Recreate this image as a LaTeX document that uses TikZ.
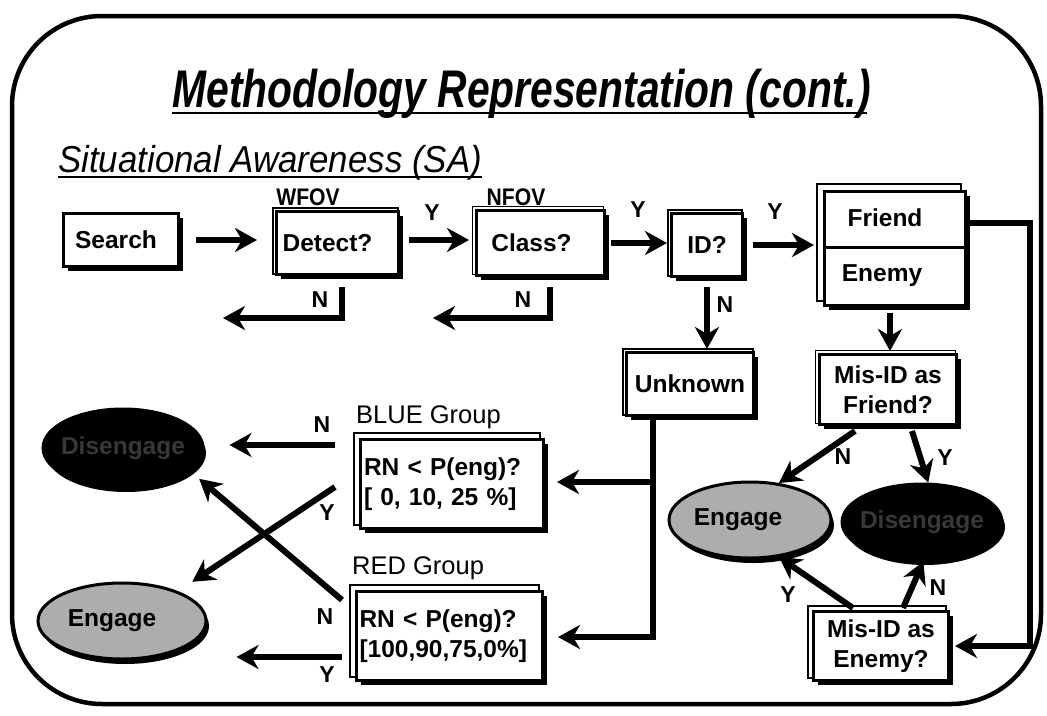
\documentclass[tikz,border=0pt]{standalone}
\usepackage{fontspec}
\setmainfont{Liberation Sans}
\newfontfamily\titlefont[FakeStretch=0.77]{Liberation Sans}
\newfontfamily\subtitlefont[FakeStretch=0.93]{Liberation Sans}
\newfontfamily\fovfont[FakeStretch=0.88]{Liberation Sans}
\usetikzlibrary{arrows.meta,calc,shapes.geometric,shadows,backgrounds}

\begin{document}
\begin{tikzpicture}[x=1pt,y=-1pt,
  lbl/.style={font=\fontsize{24.5}{30}\selectfont\bfseries},
  yn/.style={font=\fontsize{23}{26}\selectfont\bfseries, inner sep=0pt},
  grp/.style={font=\fontsize{25.5}{28}\selectfont, inner sep=0pt},
  fov/.style={font=\fovfont\bfseries\fontsize{24}{26}\selectfont, inner sep=0pt},
  box/.style={draw, line width=3pt, fill=white, inner sep=0pt, lbl,
    drop shadow={shadow xshift=4pt, shadow yshift=-4pt, fill=black, opacity=1}},
  backline/.style={draw, line width=1.3pt, fill=white},
  oval/.style={ellipse, draw, line width=3pt, inner sep=0pt, lbl,
    drop shadow={shadow xshift=3pt, shadow yshift=-5pt, fill=black, opacity=1}},
  engage/.style={oval, fill=black!32},
  disengage/.style={oval, fill=black, text=black!78},
  arr/.style={line width=6pt, -{Stealth[length=22pt, width=24pt, inset=7pt]}},
]
\useasboundingbox (0,0) rectangle (1047,715);

% slide frame
\draw[line width=4.5pt, rounded corners=90pt] (12,16) rectangle (1041,704);

% headings
\node[font=\titlefont\bfseries\itshape\fontsize{53}{58}\selectfont, inner sep=0pt, anchor=base] (title) at (521.5,107) {Methodology Representation (cont.)};
\draw[line width=2.5pt] ($(title.base west)+(0,6)$) -- ($(title.base east)+(-4,6)$);
\node[font=\subtitlefont\itshape\fontsize{37.5}{40}\selectfont, inner sep=0pt, anchor=base west] (sub) at (58,172) {Situational Awareness (SA)};
\draw[line width=2pt] ($(sub.base west)+(0,5)$) -- ($(sub.base east)+(0,5)$);

\node[fov] (wfov) at (308,197) {WFOV};
\node[fov] (nfov) at (516,197) {NFOV};

% decision boxes
\node[box, minimum width=115pt, minimum height=53pt] (search) at (121,240) {Search\hspace*{10pt}};
\node[box, minimum width=122pt, minimum height=63pt] (detect) at (337.5,243) {Detect?\hspace*{20pt}};
\node[box, minimum width=128pt, minimum height=65pt] (class) at (540.5,243) {Class?\hspace*{18pt}};
\node[box, minimum width=71pt, minimum height=63pt] (idq) at (707,245) {ID?};
\node[box, minimum width=141pt, minimum height=114pt] (fe) at (895,248.5) {};
\node[lbl] (friend) at (885,218) {Friend};
\node[lbl] (enemy) at (882,276) {Enemy};
\coordinate (div) at (0,247);
\draw[line width=3pt] (fe.west |- div) -- (fe.east |- div);
\node[box, minimum width=127pt, minimum height=63pt] (unknown) at (690,384) {Unknown};
\node[box, minimum width=137pt, minimum height=70pt, align=center] (misf) at (888,389.5) {Mis-ID as\\Friend?};
\node[box, minimum width=135pt, minimum height=69pt, align=center] (mise) at (881,646) {Mis-ID as\\Enemy?};
\node[box, minimum width=183pt, minimum height=89pt, align=left, text width=176pt] (blue) at (452,484) {RN < P(eng)?\\{[} 0, 10, 25 \%{]}};
\node[box, minimum width=186pt, minimum height=89pt, align=left, text width=180pt] (red) at (449.5,636) {RN < P(eng)?\\{[}100,90,75,0\%{]}};

% offset outlines behind the boxes
\begin{scope}[on background layer]
  \foreach \n/\d in {detect/2, class/2.5, idq/2, unknown/2, misf/2.5, mise/4, blue/5, red/5, fe/6}
    \draw[backline] ($(\n.north west)+(-\d,-\d)$) rectangle ($(\n.south east)+(-\d,-\d)$);
\end{scope}

\node[grp, anchor=west] (bluegrp) at (356,417) {BLUE Group};
\node[grp, anchor=west] (redgrp) at (352,568) {RED Group};

% outcome ovals
\node[disengage, minimum width=160pt, minimum height=78pt] (disL) at (123,448) {\makebox[0pt]{Disengage}};
\node[engage, minimum width=168pt, minimum height=76pt] (engL) at (122,621) {Engage\hspace*{20pt}};
\node[engage, minimum width=162pt, minimum height=76pt] (engR) at (750,520) {Engage\hspace*{24pt}};
\node[disengage, minimum width=160pt, minimum height=76pt] (disR) at (922,522) {\makebox[0pt]{Disengage}};

% main chain
\draw[arr, shorten <=16pt, shorten >=18pt] (search.east) -- (detect.west |- search.east);
\draw[arr, shorten <=9pt, shorten >=6pt] ($(detect.east)+(0,-3)$) -- ($(class.west)+(0,-3)$);
\draw[arr, shorten <=5pt, shorten >=3pt] (class.east) -- (idq.west |- class.east);
\draw[arr, shorten <=9pt, shorten >=9pt] (idq.east) -- (fe.west |- idq.east);

% rejected branches
\coordinate (dN) at (223,318);
\coordinate (cN) at (433,318);
\draw[arr] ($(detect.south east)+(-58,11)$) |- (dN);
\draw[arr] ($(class.south east)+(-56,10)$) |- (cN);
\draw[arr, shorten >=2pt] ($(idq.south)+(0,9)$) -- (idq.south |- unknown.north);

% friend / enemy checks
\draw[arr, shorten >=2pt] ($(misf.north |- fe.south)+(2,6)$) -- ($(misf.north)+(2,0)$);
\draw[arr] ($(misf.south)+(-33,5)$) -- (engR.52);
\draw[arr] ($(misf.south)+(24,5)$) -- (disR.81);
\draw[arr] ($(mise.north)+(-28,-2)$) -- (engR.-52);
\draw[arr] ($(mise.north)+(22,-2)$) -- (disR.-88);
\coordinate (rt) at (1030,223);
\draw[arr, shorten >=5pt] (fe.east |- rt) -- (rt) |- (mise.east);

% unknown targets
\coordinate (ub) at (653,482);
\coordinate (ur) at (653,637);
\draw[arr, shorten >=14pt] (ub |- unknown.south) -- (ur) -- (red.east |- ur);
\draw[arr, shorten >=12pt] (ub) -- (blue.east |- ub);

% group decisions
\draw[arr] ($(blue.west |- disL.east)+(-24,-3)$) -- ($(disL.east)+(25,-3)$);
\draw[arr, shorten >=17pt] ($(blue.west)+(-24,3)$) -- (engL.28);
\draw[arr, shorten >=12pt] ($(red.west)+(-13,-36)$) -- (disL.-19);
\draw[arr] ($(red.west)+(-13,21)$) -- ($(engL.east)+(29,36)$);

% branch labels
\node[yn] (y1) at (432,213) {Y};
\node[yn] (y2) at (638,210) {Y};
\node[yn] (y3) at (775,212) {Y};
\node[yn] (n1) at (320,300) {N};
\node[yn] (n2) at (523,300) {N};
\node[yn] (n3) at (725,305) {N};
\node[yn] (n4) at (843,457) {N};
\node[yn] (y4) at (945,458) {Y};
\node[yn] (y5) at (788,595) {Y};
\node[yn] (n5) at (938,588) {N};
\node[yn] (n6) at (322,425) {N};
\node[yn] (y6) at (327,513) {Y};
\node[yn] (n7) at (325,617) {N};
\node[yn] (y7) at (327,675) {Y};
\end{tikzpicture}
\end{document}
